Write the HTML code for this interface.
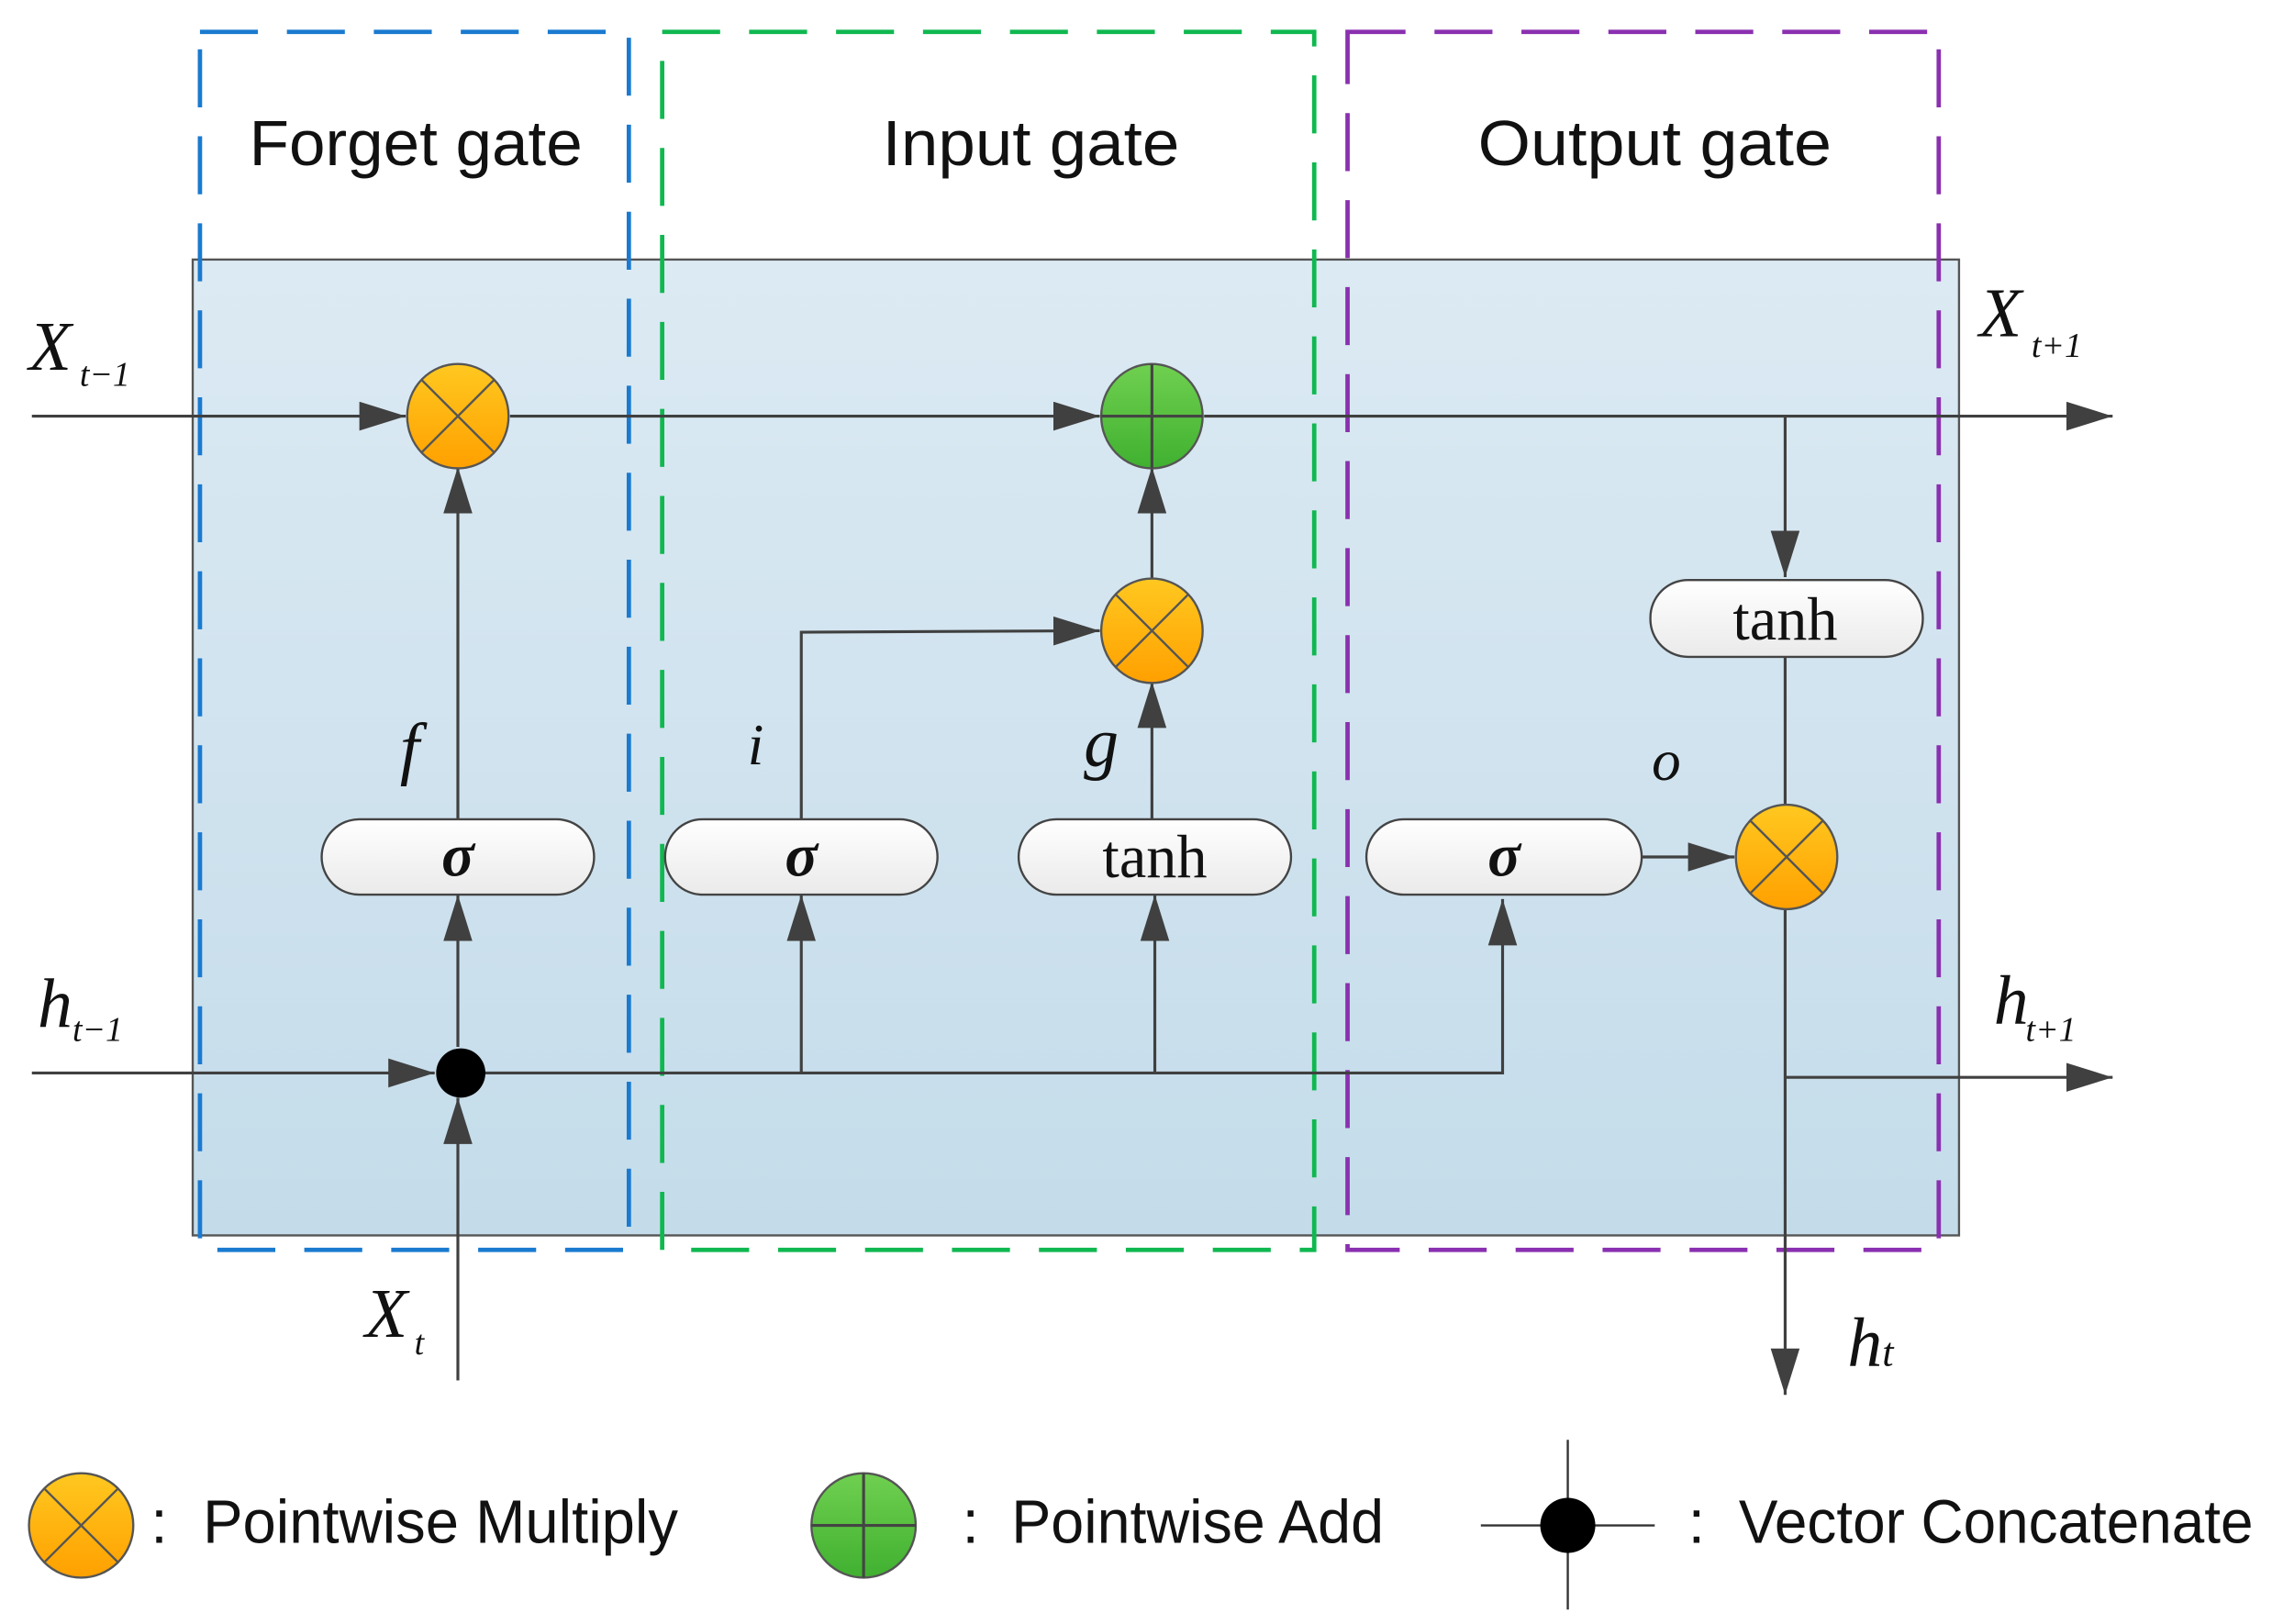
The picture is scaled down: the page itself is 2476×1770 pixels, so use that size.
<!DOCTYPE html>
<html><head><style>html,body{margin:0;padding:0;background:#fff}svg{display:block}</style></head><body>
<svg width="2476" height="1770" viewBox="0 0 1568 1120" preserveAspectRatio="none" xmlns="http://www.w3.org/2000/svg">
<defs>
<linearGradient id="bg" x1="0" y1="0" x2="0" y2="1"><stop offset="0" stop-color="#dceaf3"/><stop offset="1" stop-color="#c4dcea"/></linearGradient>
<linearGradient id="or" x1="0" y1="0" x2="0" y2="1"><stop offset="0" stop-color="#ffc820"/><stop offset="1" stop-color="#ffa000"/></linearGradient>
<linearGradient id="gr" x1="0" y1="0" x2="0" y2="1"><stop offset="0" stop-color="#70d050"/><stop offset="1" stop-color="#40b030"/></linearGradient>
<linearGradient id="pill" x1="0" y1="0" x2="0" y2="1"><stop offset="0" stop-color="#ffffff"/><stop offset="1" stop-color="#eaeaea"/></linearGradient>
<marker id="A" viewBox="0 0 32 20" refX="32" refY="10" markerWidth="32" markerHeight="20" orient="auto" markerUnits="userSpaceOnUse"><path d="M0,0 L32,10 L0,20z" fill="#404040"/></marker>
</defs>
<rect x="133" y="179" width="1219" height="673" fill="url(#bg)" stroke="#555" stroke-width="1.5"/>
<g fill="none" stroke-width="3" stroke-dasharray="40,20">
<rect x="138" y="22" width="296" height="840" stroke="#1a7ad0"/>
<rect x="457" y="22" width="450" height="840" stroke="#10b850"/>
<rect x="930" y="22" width="408" height="840" stroke="#8a30b0"/>
</g>
<g font-family="Liberation Sans, sans-serif" font-size="44" fill="#111" lengthAdjust="spacingAndGlyphs">
<text x="172" y="114" textLength="230" lengthAdjust="spacingAndGlyphs">Forget gate</text>
<text x="609" y="114" textLength="205" lengthAdjust="spacingAndGlyphs">Input gate</text>
<text x="1020" y="114" textLength="244" lengthAdjust="spacingAndGlyphs">Output gate</text>
</g>
<g stroke="#404040" stroke-width="2" fill="none">
<line x1="22" y1="287" x2="280" y2="287" marker-end="url(#A)"/>
<line x1="352" y1="287" x2="759" y2="287" marker-end="url(#A)"/>
<line x1="831" y1="287" x2="1458" y2="287" marker-end="url(#A)"/>
<line x1="22" y1="740" x2="300" y2="740" marker-end="url(#A)"/>
<polyline points="318,740 1037,740 1037,620" marker-end="url(#A)"/>
<line x1="316" y1="952" x2="316" y2="757" marker-end="url(#A)"/>
<line x1="316" y1="722" x2="316" y2="617" marker-end="url(#A)"/>
<line x1="316" y1="565" x2="316" y2="322" marker-end="url(#A)"/>
<polyline points="553,565 553,436 759,435" marker-end="url(#A)"/>
<line x1="553" y1="740" x2="553" y2="617" marker-end="url(#A)"/>
<line x1="797" y1="740" x2="797" y2="617" marker-end="url(#A)"/>
<line x1="795" y1="565" x2="795" y2="470" marker-end="url(#A)"/>
<line x1="795" y1="400" x2="795" y2="322" marker-end="url(#A)"/>
<line x1="1133" y1="591" x2="1197" y2="591" marker-end="url(#A)"/>
<line x1="1232" y1="287" x2="1232" y2="398" marker-end="url(#A)"/>
<line x1="1232" y1="453" x2="1232" y2="556"/>
<line x1="1232" y1="626" x2="1232" y2="962" marker-end="url(#A)"/>
<line x1="1232" y1="743" x2="1458" y2="743" marker-end="url(#A)"/>
</g>
<g stroke="#444" stroke-width="1.5" fill="url(#pill)">
<rect x="222" y="565" width="188" height="52" rx="26"/>
<rect x="459" y="565" width="188" height="52" rx="26"/>
<rect x="703" y="565" width="188" height="52" rx="26"/>
<rect x="943" y="565" width="190" height="52" rx="26"/>
<rect x="1139" y="400" width="188" height="53" rx="26"/>
</g>
<g font-family="Liberation Serif, serif" font-size="42" fill="#111" text-anchor="middle">
<text x="316" y="604" font-style="italic" font-weight="bold">σ</text>
<text x="553" y="604" font-style="italic" font-weight="bold">σ</text>
<text x="797" y="605">tanh</text>
<text x="1038" y="604" font-style="italic" font-weight="bold">σ</text>
<text x="1232" y="441">tanh</text>
</g>
<ellipse cx="316" cy="287" rx="35" ry="36" fill="url(#or)" stroke="#555" stroke-width="1.5"/>
<path d="M291,262 L341,312 M341,262 L291,312" stroke="#555" stroke-width="1.5"/>
<g transform="translate(479,148)"><ellipse cx="316" cy="287" rx="35" ry="36" fill="url(#or)" stroke="#555" stroke-width="1.5"/><path d="M291,262 L341,312 M341,262 L291,312" stroke="#555" stroke-width="1.5"/></g>
<g transform="translate(917,304)"><ellipse cx="316" cy="287" rx="35" ry="36" fill="url(#or)" stroke="#555" stroke-width="1.5"/><path d="M291,262 L341,312 M341,262 L291,312" stroke="#555" stroke-width="1.5"/></g>
<ellipse cx="795" cy="287" rx="35" ry="36" fill="url(#gr)" stroke="#555" stroke-width="1.5"/>
<path d="M760,287 H830 M795,251 V323" stroke="#444" stroke-width="2"/>
<circle cx="318" cy="740" r="17" fill="#000"/>
<g font-family="Liberation Serif, serif" font-style="italic" font-size="48" fill="#111">
<text x="20" y="255">X</text><text x="55" y="266" font-size="24">t−1</text>
<text x="1366" y="232">X</text><text x="1402" y="246" font-size="24">t+1</text>
<text x="26" y="708">h</text><text x="50" y="718" font-size="24">t−1</text>
<text x="1376" y="706">h</text><text x="1398" y="718" font-size="24">t+1</text>
<text x="252" y="922">X</text><text x="286" y="934" font-size="24">t</text>
<text x="1275" y="942">h</text><text x="1299" y="942" font-size="28">t</text>
<text x="276" y="532">f</text><text x="516" y="527" font-size="40">i</text>
<text x="748" y="528">g</text><text x="1140" y="538" font-size="40">o</text>
</g>
<ellipse cx="56" cy="1052" rx="36" ry="36" fill="url(#or)" stroke="#555" stroke-width="1.5"/>
<path d="M31,1027 L81,1077 M81,1027 L31,1077" stroke="#555" stroke-width="1.5"/>
<ellipse cx="596" cy="1052" rx="36" ry="36" fill="url(#gr)" stroke="#555" stroke-width="1.5"/>
<path d="M560,1052 H632 M596,1016 V1088" stroke="#444" stroke-width="2"/>
<path d="M1022,1052 H1142 M1082,993 V1110" stroke="#333" stroke-width="1.5"/>
<circle cx="1082" cy="1052" r="19" fill="#000"/>
<g font-family="Liberation Sans, sans-serif" font-size="42" fill="#111">
<text x="104" y="1064">:</text><text x="140" y="1064" textLength="328" lengthAdjust="spacingAndGlyphs">Pointwise Multiply</text>
<text x="664" y="1064">:</text><text x="698" y="1064" textLength="257" lengthAdjust="spacingAndGlyphs">Pointwise Add</text>
<text x="1165" y="1064">:</text><text x="1200" y="1064" textLength="355" lengthAdjust="spacingAndGlyphs">Vector Concatenate</text>
</g>
</svg>
</body></html>
